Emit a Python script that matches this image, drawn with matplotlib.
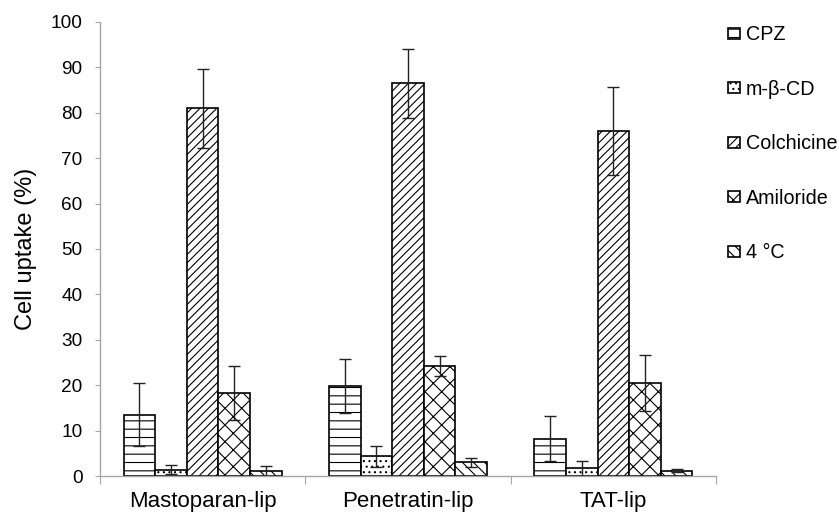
import numpy as np
import matplotlib
matplotlib.use("Agg")
import matplotlib.pyplot as plt

plt.rcParams['font.family'] = ['Liberation Sans', 'DejaVu Sans']
plt.rcParams['hatch.linewidth'] = 0.8

groups = ["Mastoparan-lip", "Penetratin-lip", "TAT-lip"]
treatments = ["CPZ", "m-β-CD", "Colchicine", "Amiloride", "4 °C"]

# rows = treatments, columns = groups
uptake = [
    [13.5, 19.8, 8.2],
    [1.4, 4.3, 1.7],
    [81.0, 86.5, 75.9],
    [18.3, 24.3, 20.5],
    [1.2, 3.0, 1.2],
]
uptake_err = [
    [7.0, 6.0, 5.0],
    [1.0, 2.3, 1.6],
    [8.7, 7.6, 9.7],
    [6.0, 2.2, 6.1],
    [1.1, 1.0, 0.4],
]
hatches = ["--", "...", "////", "xx", "\\\\\\"]

fig = plt.figure(figsize=(8.39, 5.16), dpi=100)
ax = fig.add_axes([0.1192, 0.0775, 0.7342, 0.88])

x = np.arange(len(groups)) + 0.5
w = 1 / 6.5   # excel gap width 150%
for i, name in enumerate(treatments):
    ax.bar(x + (i - 2) * w, uptake[i], w, color="white", edgecolor="black",
           linewidth=1.2, hatch=hatches[i], label=name,
           yerr=uptake_err[i], error_kw=dict(ecolor="#222222", elinewidth=1, capsize=4, capthick=1))

ax.set_xlim(0, 3)
ax.set_ylim(0, 100)
ax.set_yticks(range(0, 101, 10))
ax.set_xticks([0, 1, 2, 3])
ax.set_xticklabels([])
ax.set_xticks(x, minor=True)
ax.set_xticklabels(groups, minor=True, fontsize=16)
ax.tick_params(axis='x', which='minor', length=0, pad=11)
ax.tick_params(axis='x', which='major', length=6, color="#a6a6a6")
ax.tick_params(axis='y', length=3.6, color="#a6a6a6", labelsize=13.7, pad=9)

for s in ["top", "right"]:
    ax.spines[s].set_visible(False)
for s in ["left", "bottom"]:
    ax.spines[s].set_color("#a6a6a6")
    ax.spines[s].set_linewidth(1)

ax.set_ylabel("Cell uptake (%)", fontsize=17, labelpad=10)

fig.legend(loc="upper left", bbox_to_anchor=(0.868, 0.951), frameon=False,
           fontsize=14.2, handlelength=0.6, handleheight=0.5, handletextpad=0.3,
           labelspacing=1.8, borderaxespad=0, borderpad=0)

fig.savefig("out.png", dpi=100)
